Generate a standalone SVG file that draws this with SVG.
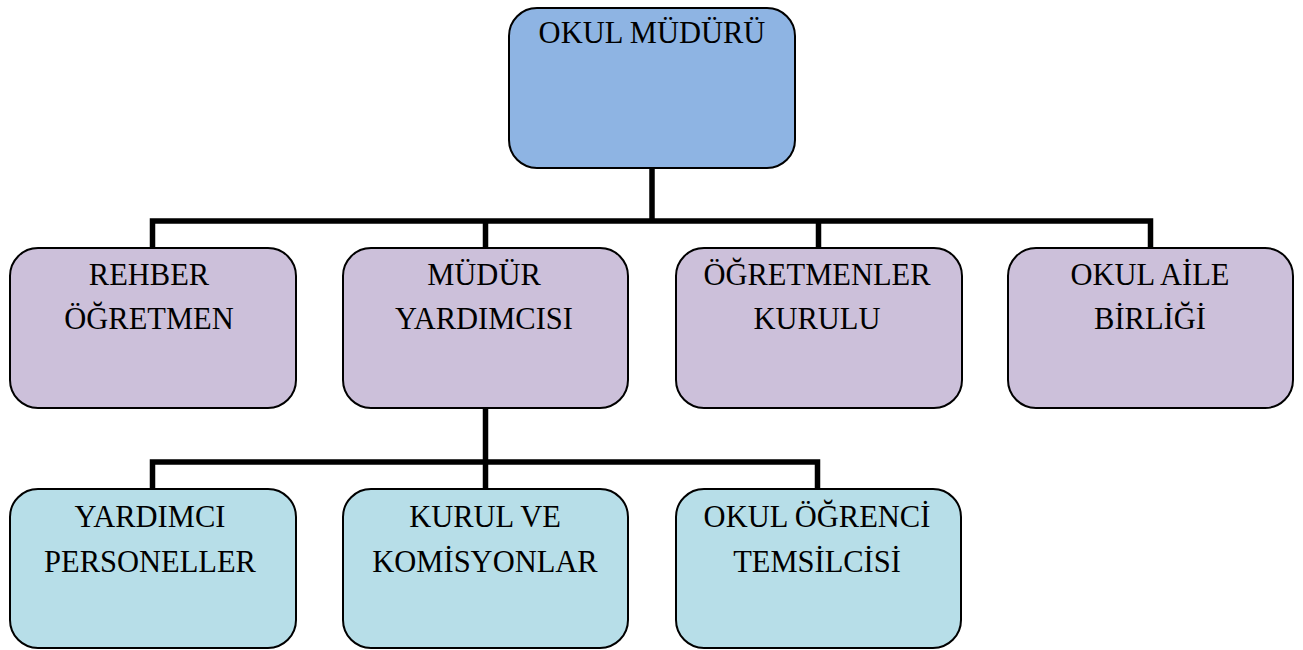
<svg xmlns="http://www.w3.org/2000/svg" width="1303" height="650" viewBox="0 0 1303 650">
<style>
.box{stroke:#000;stroke-width:2}
.top{fill:#8EB4E3}
.mid{fill:#CCC0DA}
.low{fill:#B7DEE8}
text{font-family:"Liberation Serif","Times New Roman",serif;font-size:30.5px;fill:#000;text-anchor:middle}
.conn{fill:none;stroke:#000;stroke-width:5.5;stroke-linejoin:miter;stroke-linecap:butt}
</style>
<rect width="1303" height="650" fill="#fff"/>
<g id="connectors">
<path class="conn" d="M652,168 V221"/>
<path class="conn" d="M152.5,248 V221 H1150.5 V248"/>
<path class="conn" d="M485.5,221 V248 M818.5,221 V248"/>
<path class="conn" d="M485.5,408 V489"/>
<path class="conn" d="M152.5,489 V462 H817.5 V489"/>
</g>
<g id="okul-muduru">
<rect class="box top" x="509" y="8" width="286" height="160" rx="28"/>
<text x="652" y="43">OKUL MÜDÜRÜ</text>
</g>
<g id="rehber-ogretmen">
<rect class="box mid" x="10" y="248" width="286" height="160" rx="28"/>
<text x="149" y="285">REHBER</text>
<text x="149" y="329">ÖĞRETMEN</text>
</g>
<g id="mudur-yardimcisi">
<rect class="box mid" x="343" y="248" width="285" height="160" rx="28"/>
<text x="484" y="285">MÜDÜR</text>
<text x="484" y="329">YARDIMCISI</text>
</g>
<g id="ogretmenler-kurulu">
<rect class="box mid" x="676" y="248" width="286" height="160" rx="28"/>
<text x="817" y="285">ÖĞRETMENLER</text>
<text x="817" y="329">KURULU</text>
</g>
<g id="okul-aile-birligi">
<rect class="box mid" x="1008" y="248" width="285" height="160" rx="28"/>
<text x="1150" y="285">OKUL AİLE</text>
<text x="1150" y="329">BİRLİĞİ</text>
</g>
<g id="yardimci-personeller">
<rect class="box low" x="10" y="489" width="286" height="159" rx="28"/>
<text x="150" y="527">YARDIMCI</text>
<text x="150" y="572">PERSONELLER</text>
</g>
<g id="kurul-ve-komisyonlar">
<rect class="box low" x="343" y="489" width="285" height="159" rx="28"/>
<text x="485" y="527">KURUL VE</text>
<text x="485" y="572">KOMİSYONLAR</text>
</g>
<g id="okul-ogrenci-temsilcisi">
<rect class="box low" x="676" y="489" width="285" height="159" rx="28"/>
<text x="817" y="527">OKUL ÖĞRENCİ</text>
<text x="817" y="572">TEMSİLCİSİ</text>
</g>
</svg>
